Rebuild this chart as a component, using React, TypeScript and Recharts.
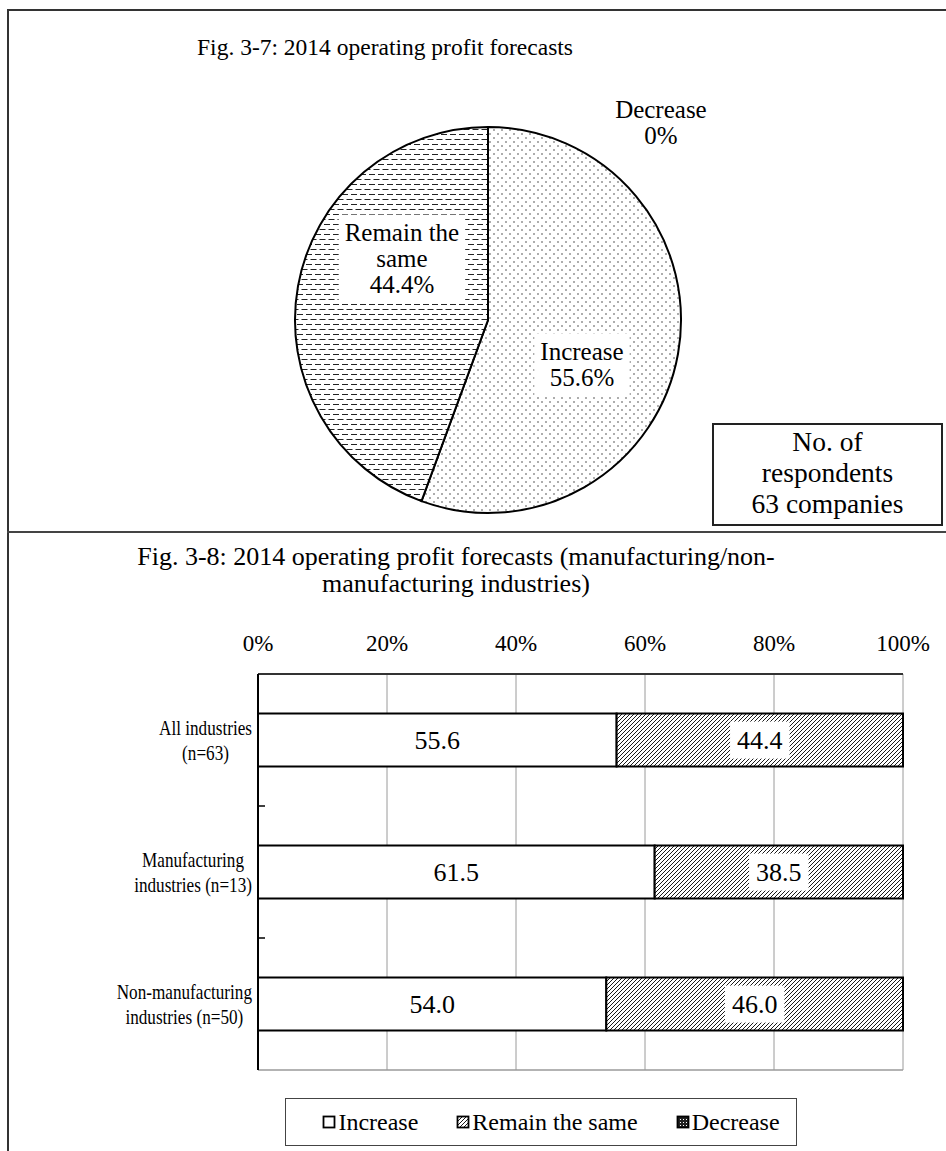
import React from 'react';
import {
  PieChart, Pie, Cell, BarChart, Bar, XAxis, YAxis, CartesianGrid, LabelList, Legend,
} from 'recharts';

const FONT = '"Liberation Serif", "Times New Roman", Times, serif';
const TICK_FS = 23;
const PIE_FS = 25;
const PIE_LH = 26;
const BAR_FS = 26;
const CAT_FS = 22;
const CAT_SX = 0.78;

// ---------- Pie data (Fig. 3-7) ----------
const pieNames = ['Increase', 'Remain the same', 'Decrease'];
const pieValues = [55.6, 44.4, 0];
const pieNameLines = [['Increase'], ['Remain the', 'same'], ['Decrease']];
const respondentsLines = ['No. of', 'respondents', '63 companies'];

// ---------- Bar data (Fig. 3-8) ----------
const categories = [
  'All industries\n(n=63)',
  'Manufacturing\nindustries (n=13)',
  'Non-manufacturing\nindustries (n=50)',
];
const increaseValues = [55.6, 61.5, 54.0];
const remainValues = [44.4, 38.5, 46.0];
const decreaseValues = [0, 0, 0];
const seriesNames = ['Increase', 'Remain the same', 'Decrease'];
const xTicks = [0, 20, 40, 60, 80, 100];

const title1 = 'Fig. 3-7: 2014 operating profit forecasts';
const title2Lines = ['Fig. 3-8: 2014 operating profit forecasts (manufacturing/non-', 'manufacturing industries)'];

const pieData = pieNames.map((n, i) => ({ name: n, value: pieValues[i] }));
const barData = categories.map((c, i) => ({
  name: c,
  increase: increaseValues[i],
  remain: remainValues[i],
  decrease: decreaseValues[i],
}));

const pieFills = ['url(#pDots)', 'url(#pDash)', 'url(#pDec)'];
const barFills = ['#ffffff', 'url(#pHatch)', 'url(#pDec)'];

let _ctx: CanvasRenderingContext2D | null = null;
function measure(t: string, size: number): number {
  if (!_ctx) _ctx = document.createElement('canvas').getContext('2d');
  if (!_ctx) return t.length * size * 0.45;
  _ctx.font = `${size}px "Liberation Serif"`;
  return _ctx.measureText(t).width;
}

// layout constants for the pie labels (fractions of the outer radius)
const pieLabelOffsets: [number, number][] = [[0.487, 0.23], [-0.446, -0.318], [0.896, -1.022]];

const renderPieLabel = (props: any) => {
  const { cx, cy, outerRadius, index, value } = props;
  const lines = [...pieNameLines[index], `${value}%`];
  const [fx, fy] = pieLabelOffsets[index];
  const x = cx + fx * outerRadius;
  const y = cy + fy * outerRadius;
  const w = Math.max(...lines.map((l) => measure(l, PIE_FS))) + 12;
  const h = lines.length * PIE_LH + 10;
  const y0 = y - ((lines.length - 1) * PIE_LH) / 2;
  return (
    <g key={`pl-${index}`}>
      {value > 0 && <rect x={x - w / 2} y={y - h / 2} width={w} height={h} fill="#fff" />}
      <text textAnchor="middle" fontFamily={FONT} fontSize={PIE_FS} fill="#000">
        {lines.map((l, i) => (
          <tspan key={i} x={x} y={y0 + i * PIE_LH + PIE_FS * 0.33}>{l}</tspan>
        ))}
      </text>
    </g>
  );
};

const PLOT_TOP = 74;
const CHART_H = 551;
const MARGIN = { top: 0, right: 43, bottom: 5, left: 8 };
const LEGEND_H = 48;
const BOTTOM_AXIS_H = 28;
const PLOT_H = CHART_H - MARGIN.top - PLOT_TOP - MARGIN.bottom - LEGEND_H - BOTTOM_AXIS_H;

const CatTick = (props: any) => {
  const { x, y, payload, index } = props;
  const lines: string[] = String(payload.value).split('\n');
  const w = Math.max(...lines.map((l) => measure(l, CAT_FS))) * CAT_SX;
  const cxText = x - w / 2;
  const clh = 25;
  const y0 = y - ((lines.length - 1) * clh) / 2;
  const band = PLOT_H / categories.length;
  const axisX = x + 6;
  return (
    <g>
      <g transform={`translate(${cxText} 0) scale(${CAT_SX} 1)`}>
        <text textAnchor="middle" fontFamily={FONT} fontSize={CAT_FS} fill="#000">
          {lines.map((l, i) => (
            <tspan key={i} x={0} y={y0 + i * clh + CAT_FS * 0.35}>{l}</tspan>
          ))}
        </text>
      </g>
      {index < categories.length - 1 && (
        <line x1={axisX} x2={axisX + 7} y1={y + band / 2} y2={y + band / 2} stroke="#000" strokeWidth={1.5} />
      )}
    </g>
  );
};

const IncLabel = (p: any) => {
  const { x, y, width, height, value } = p;
  if (!value) return null;
  return (
    <text x={x + width / 2} y={y + height / 2 + BAR_FS * 0.35} textAnchor="middle" fontFamily={FONT} fontSize={BAR_FS} fill="#000">
      {Number(value).toFixed(1)}
    </text>
  );
};

const RemLabel = (p: any) => {
  const { x, y, width, height, value } = p;
  if (!value) return null;
  const t = Number(value).toFixed(1);
  const w = measure(t, BAR_FS) + 14;
  const h = 37;
  const cx = x + width / 2;
  const cy = y + height / 2;
  return (
    <g>
      <rect x={cx - w / 2} y={cy - h / 2} width={w} height={h} fill="#fff" />
      <text x={cx} y={cy + BAR_FS * 0.35} textAnchor="middle" fontFamily={FONT} fontSize={BAR_FS} fill="#000">{t}</text>
    </g>
  );
};

const renderLegend = () => (
  <div
    style={{
      border: '1.5px solid #444', height: LEGEND_H, boxSizing: 'border-box', display: 'flex',
      alignItems: 'center', justifyContent: 'center', gap: 38, fontFamily: FONT, fontSize: 24, color: '#000',
      background: '#fff', paddingLeft: 20,
    }}
  >
    {seriesNames.map((n, i) => (
      <span key={n} style={{ display: 'flex', alignItems: 'center' }}>
        <svg width={14} height={14} style={{ marginRight: 2 }}>
          <rect x={1.5} y={1.5} width={11} height={11} fill={barFills[i]} stroke="#000" strokeWidth={1.8} />
        </svg>
        {n}
      </span>
    ))}
  </div>
);

export default function App() {
  return (
    <div style={{ position: 'absolute', left: 0, top: 0, width: 946, height: 1151, background: '#fff', overflow: 'hidden', fontFamily: FONT }}>
      <svg width={0} height={0} style={{ position: 'absolute' }}>
        <defs>
          <pattern id="pDots" patternUnits="userSpaceOnUse" width="8" height="8">
            <rect width="8" height="8" fill="#fff" />
            <circle cx="2" cy="2" r="0.75" fill="#333" />
            <circle cx="6" cy="6" r="0.75" fill="#333" />
          </pattern>
          <pattern id="pDash" patternUnits="userSpaceOnUse" width="9" height="10">
            <rect width="9" height="10" fill="#fff" />
            <path d="M0 2.5 H6 M4.5 7.5 H9 M0 7.5 H1.5" stroke="#222" strokeWidth="1" />
          </pattern>
          <pattern id="pHatch" patternUnits="userSpaceOnUse" width="4" height="4">
            <rect width="4" height="4" fill="#fff" />
            <path d="M-1 1 L1 -1 M0 4 L4 0 M3 5 L5 3" stroke="#000" strokeWidth="0.9" />
          </pattern>
          <pattern id="pDec" patternUnits="userSpaceOnUse" width="3" height="3">
            <rect width="3" height="3" fill="#222" />
            <rect x="1" y="1" width="1" height="1" fill="#fff" />
          </pattern>
        </defs>
      </svg>

      {/* frame */}
      <div style={{ position: 'absolute', left: 7, top: 9, width: 2, height: 1142, background: '#333' }} />
      <div style={{ position: 'absolute', left: 7, top: 9, width: 939, height: 2, background: '#333' }} />
      <div style={{ position: 'absolute', left: 7, top: 531, width: 939, height: 2, background: '#444' }} />

      {/* Fig 3-7 */}
      <div style={{ position: 'absolute', left: 0, top: 34, width: 770, textAlign: 'center', fontSize: 23.5, lineHeight: '27px', color: '#000' }}>
        {title1}
      </div>
      <div style={{ position: 'absolute', left: 0, top: 12 }}>
        <PieChart width={946} height={518}>
          <Pie
            data={pieData}
            dataKey="value"
            nameKey="name"
            cx={483}
            cy={303}
            outerRadius={193}
            startAngle={90}
            endAngle={-270}
            stroke="#000"
            strokeWidth={2}
            isAnimationActive={false}
            label={renderPieLabel}
            labelLine={false}
          >
            {pieData.map((d, i) => (
              <Cell key={d.name} fill={pieFills[i]} stroke="#000" strokeWidth={2} />
            ))}
          </Pie>
        </PieChart>
      </div>
      <div
        style={{
          position: 'absolute', left: 712, top: 423, width: 231, height: 103, boxSizing: 'border-box',
          border: '2px solid #222', display: 'flex', flexDirection: 'column', justifyContent: 'center',
          alignItems: 'center', fontSize: 27.5, lineHeight: '31px', color: '#000', background: '#fff',
          paddingBottom: 4,
        }}
      >
        {respondentsLines.map((l) => (<div key={l}>{l}</div>))}
      </div>

      {/* Fig 3-8 */}
      <div style={{ position: 'absolute', left: 0, top: 543, width: 912, textAlign: 'center', fontSize: 26, lineHeight: '27px', color: '#000' }}>
        {title2Lines.map((l) => (<div key={l}>{l}</div>))}
      </div>
      <div style={{ position: 'absolute', left: 0, top: 600 }}>
        <BarChart
          width={946}
          height={CHART_H}
          data={barData}
          layout="vertical"
          margin={MARGIN}
          barCategoryGap="30%"
        >
          <CartesianGrid xAxisId="top" horizontal={false} stroke="#9a9a9a" strokeWidth={1} />
          <XAxis
            xAxisId="top"
            type="number"
            orientation="top"
            domain={[0, 100]}
            ticks={xTicks}
            tickFormatter={(v: number) => `${v}%`}
            height={PLOT_TOP}
            axisLine={{ stroke: '#333', strokeWidth: 2 }}
            tickLine={false}
            tickMargin={17}
            tick={{ fontFamily: FONT, fontSize: TICK_FS, fill: '#000' }}
            interval={0}
          />
          <XAxis
            xAxisId="bottom"
            type="number"
            orientation="bottom"
            domain={[0, 100]}
            height={BOTTOM_AXIS_H}
            tick={false}
            tickLine={false}
            axisLine={{ stroke: '#9a9a9a', strokeWidth: 1.5 }}
          />
          <YAxis
            type="category"
            dataKey="name"
            width={250}
            axisLine={{ stroke: '#000', strokeWidth: 2 }}
            tickLine={false}
            tickSize={6}
            tickMargin={0}
            tick={<CatTick />}
            interval={0}
          />
          <Legend verticalAlign="bottom" content={renderLegend} width={512} wrapperStyle={{ left: 285 }} />
          <Bar xAxisId="top" dataKey="increase" name={seriesNames[0]} stackId="s" fill={barFills[0]} stroke="#000" strokeWidth={2} isAnimationActive={false}>
            <LabelList dataKey="increase" content={<IncLabel />} />
          </Bar>
          <Bar xAxisId="top" dataKey="remain" name={seriesNames[1]} stackId="s" fill={barFills[1]} stroke="#000" strokeWidth={2} isAnimationActive={false}>
            <LabelList dataKey="remain" content={<RemLabel />} />
          </Bar>
          <Bar xAxisId="top" dataKey="decrease" name={seriesNames[2]} stackId="s" fill={barFills[2]} stroke="#000" strokeWidth={2} isAnimationActive={false} />
        </BarChart>
      </div>
    </div>
  );
}
